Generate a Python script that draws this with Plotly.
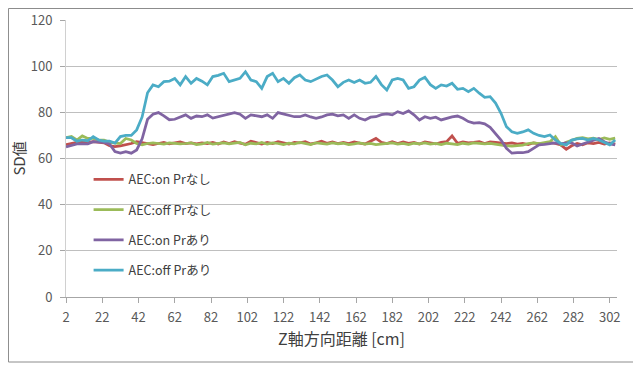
import plotly.graph_objects as go

x_cm = list(range(2, 306, 3))

on_pr_nashi = [66.0, 66.6, 67.0, 67.3, 67.0, 67.3, 67.2, 66.8, 65.5, 65.1,
               65.5, 65.9, 66.5, 67.3, 66.8, 66.5, 66.0, 66.5, 67.0, 66.3,
               66.8, 67.2, 66.5, 66.8, 66.3, 66.8, 66.5, 67.0, 66.3, 67.2,
               66.5, 67.3, 66.6, 66.2, 67.5, 66.8, 66.3, 67.0, 66.5, 67.3,
               66.6, 66.2, 67.0, 66.8, 67.3, 66.3, 66.8, 67.5, 66.6, 67.2,
               66.5, 67.0, 66.5, 67.2, 66.7, 66.3, 67.5, 68.7, 67.0, 66.5,
               67.3, 66.5, 67.2, 66.6, 67.0, 66.3, 67.2, 66.8, 66.3, 67.0,
               67.3, 69.8, 66.6, 67.2, 66.8, 67.0, 67.3, 66.5, 67.2, 67.0,
               66.8, 66.5, 66.8, 66.2, 66.5, 66.0, 66.8, 66.3, 66.6, 67.0,
               66.5, 65.9, 64.0, 65.5, 66.5, 65.9, 66.8, 66.5, 67.0, 66.3,
               66.8, 66.2]

off_pr_nashi = [69.0, 69.5, 68.0, 69.8, 68.7, 68.7, 68.0, 68.0, 67.0, 66.9,
                66.5, 68.7, 68.0, 66.5, 65.9, 66.5, 66.8, 66.5, 66.2, 66.8,
                66.6, 66.3, 66.5, 66.8, 66.0, 66.3, 67.0, 66.2, 66.6, 66.8,
                66.3, 66.5, 67.0, 65.9, 66.6, 66.3, 67.0, 66.2, 66.8, 66.5,
                66.0, 66.6, 66.3, 67.0, 66.4, 66.0, 66.8, 66.5, 66.2, 66.8,
                66.3, 66.6, 66.0, 66.3, 66.8, 66.2, 66.5, 66.0, 66.3, 66.6,
                66.8, 66.2, 66.5, 66.0, 66.6, 66.3, 66.8, 66.2, 66.5, 66.0,
                66.6, 66.3, 66.0, 66.6, 66.2, 66.8, 66.5, 66.3, 66.6, 66.2,
                65.8, 65.5, 65.4, 65.6, 65.8, 66.5, 66.8, 66.5, 67.0, 67.3,
                69.5, 65.9, 67.0, 68.0, 68.7, 69.0, 68.5, 68.8, 68.2, 68.9,
                68.3, 68.8]

on_pr_ari = [65.0, 65.5, 66.3, 66.3, 66.3, 67.3, 67.3, 67.0, 66.3, 63.0,
             62.3, 63.0, 62.3, 63.7, 68.5, 77.0, 79.2, 79.9, 78.5, 76.8,
             77.0, 77.9, 78.9, 77.4, 78.4, 78.1, 78.9, 77.5, 78.1, 78.9,
             79.5, 79.9, 79.2, 77.4, 78.9, 78.5, 78.1, 78.9, 77.4, 79.9,
             79.3, 78.5, 78.1, 78.1, 78.9, 78.0, 77.4, 78.0, 78.9, 79.2,
             78.5, 78.9, 77.4, 78.9, 77.4, 76.7, 77.9, 78.1, 79.0, 79.3,
             78.9, 80.3, 79.5, 80.6, 78.9, 76.7, 78.1, 77.4, 77.9, 76.7,
             77.4, 78.0, 78.4, 77.4, 76.0, 75.3, 75.5, 75.0, 73.5, 70.5,
             68.0, 64.4, 62.3, 62.5, 62.5, 63.0, 64.4, 65.9, 66.1, 66.3,
             66.8, 66.3, 66.8, 66.8, 65.4, 66.3, 67.0, 68.0, 68.7, 67.3,
             66.3, 65.9]

off_pr_ari = [69.0, 69.0, 67.5, 68.0, 67.7, 69.5, 68.0, 67.5, 67.5, 66.7,
              69.5, 70.0, 70.0, 72.4, 78.0, 88.5, 91.9, 91.1, 93.3, 93.5,
              94.7, 91.9, 95.5, 92.6, 94.7, 93.5, 91.9, 95.5, 96.0, 96.9,
              93.3, 94.0, 94.7, 97.6, 94.0, 93.3, 90.4, 95.5, 96.9, 93.3,
              94.7, 92.6, 95.0, 96.2, 94.0, 93.3, 94.5, 95.5, 96.2, 94.0,
              91.1, 93.0, 94.0, 92.9, 94.0, 92.6, 93.0, 95.5, 92.0, 89.7,
              94.0, 94.7, 94.0, 90.4, 91.1, 94.0, 95.2, 92.0, 90.4, 91.9,
              91.4, 92.6, 90.0, 90.4, 89.0, 90.4, 88.3, 86.5, 86.8, 84.0,
              79.6, 73.8, 71.6, 70.9, 71.5, 72.4, 70.9, 70.0, 69.5, 70.2,
              68.0, 66.5, 65.9, 68.0, 68.5, 68.7, 68.0, 68.7, 68.0, 67.0,
              65.9, 68.0]

series_names = ["AEC:on Prなし", "AEC:off Prなし", "AEC:on Prあり", "AEC:off Prあり"]
series_values = [on_pr_nashi, off_pr_nashi, on_pr_ari, off_pr_ari]
series_colors = ["#C0504D", "#9BBB59", "#8064A2", "#4BACC6"]

x_ticks = list(range(2, 303, 20))
y_ticks = [0, 20, 40, 60, 80, 100, 120]

FONT = "Noto Sans CJK JP"

fig = go.Figure()
for i, (name, vals, col) in enumerate(zip(series_names, series_values, series_colors)):
    fig.add_trace(go.Scatter(
        x=x_cm, y=vals, mode="lines", name=name,
        line=dict(color=col, width=2.75),
        legendgroup=f"g{i}",
    ))

fig.update_layout(
    width=633, height=357,
    margin=dict(l=58, r=24, t=12, b=68, autoexpand=False),
    paper_bgcolor="white", plot_bgcolor="white",
    font=dict(family=FONT, size=12, color="#404040"),
    showlegend=True,
    legend=dict(
        x=0.041, y=0.477, xanchor="left", yanchor="top",
        bgcolor="rgba(0,0,0,0)", tracegroupgap=11,
        font=dict(family=FONT, size=12.5, color="#404040"),
    ),
    xaxis=dict(
        automargin=False,
        range=[2, 306], tickmode="array", tickvals=x_ticks,
        ticktext=[str(v) for v in x_ticks],
        showgrid=False, zeroline=False,
        showline=True, linecolor="#A6A6A6", linewidth=1,
        ticks="outside", ticklen=5, tickcolor="#A6A6A6",
        ticklabelstandoff=3,
        tickfont=dict(family=FONT, size=13, color="#595959"),
        title=dict(text="Z軸方向距離 [cm]", font=dict(family=FONT, size=16, color="#404040"), standoff=5),
    ),
    yaxis=dict(
        automargin=True,
        range=[0, 120], tickmode="array", tickvals=y_ticks,
        showgrid=True, gridcolor="#BFBFBF", gridwidth=1, zeroline=False,
        showline=True, linecolor="#D0D0D0", linewidth=1,
        ticks="outside", ticklen=5, tickcolor="#A6A6A6",
        ticklabelstandoff=5,
        tickfont=dict(family=FONT, size=13, color="#595959"),
        title=dict(text="SD値", font=dict(family=FONT, size=15, color="#404040"), standoff=3),
    ),
    shapes=[dict(type="rect", xref="paper", yref="paper",
                 x0=-0.1044, x1=1.0363, y0=-0.2347, y1=1.0415,
                 line=dict(color="#8C8C8C", width=1), fillcolor="rgba(0,0,0,0)", layer="below")],
)

fig.write_html("out.html")
